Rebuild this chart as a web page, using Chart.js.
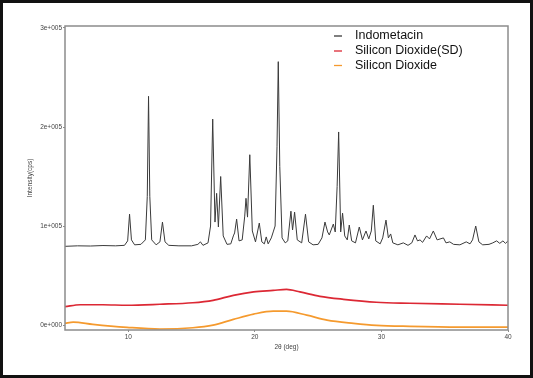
<!DOCTYPE html>
<html>
<head>
<meta charset="utf-8">
<script src="https://cdn.jsdelivr.net/npm/chart.js@4/dist/chart.umd.min.js"></script>
<style>
  html, body { margin: 0; padding: 0; background: #fff; }
  #wrap { position: relative; width: 533px; height: 378px; }
  #wrap canvas { position: absolute; left: 0; top: 0; }
  #frame {
    position: absolute; left: 0; top: 0; width: 533px; height: 378px;
    box-sizing: border-box; border: 3px solid #111; pointer-events: none;
  }
</style>
</head>
<body>
<div id="wrap">
  <canvas id="graficoXRD" width="533" height="378"></canvas>
  <div id="frame"></div>
</div>
<script>
// 2θ (deg) and intensity (cps)
const indoTheta = [
  5.0, 6.0, 7.0, 8.0, 9.0, 9.7, 9.95, 10.1, 10.25, 10.5, 11.0, 11.35, 11.5, 11.6, 11.7,
  11.85, 12.2, 12.5, 12.7, 12.9, 13.2, 14.0, 15.0, 15.5, 15.7, 15.9, 16.3, 16.5, 16.67,
  16.85, 16.98, 17.12, 17.3, 17.5, 17.8, 18.1, 18.3, 18.4, 18.56, 18.75, 19.0, 19.2, 19.3,
  19.42, 19.6, 19.8, 20.05, 20.35, 20.55, 20.75, 20.9, 21.05, 21.3, 21.45, 21.6, 21.75,
  21.85, 21.97, 22.15, 22.4, 22.6, 22.85, 22.98, 23.14, 23.35, 23.7, 24.0, 24.25, 24.6,
  25.0, 25.3, 25.54, 25.75, 25.88, 26.2, 26.35, 26.5, 26.62, 26.78, 26.93, 27.1, 27.3,
  27.46, 27.65, 27.95, 28.25, 28.5, 28.78, 29.0, 29.2, 29.36, 29.55, 29.9, 30.1, 30.36,
  30.55, 30.73, 30.9, 31.3, 31.73, 32.1, 32.4, 32.65, 32.85, 33.05, 33.25, 33.57, 33.8,
  34.1, 34.4, 34.9, 35.1, 35.4, 35.7, 36.2, 36.7, 37.0, 37.2, 37.45, 37.7, 38.0, 38.5,
  38.8, 39.1, 39.35, 39.6, 39.8, 40.0
];
const indoCps = [
  79500, 80000, 79800, 80300, 80000, 80500, 85000, 112000, 86000, 81000, 81500, 86000, 130000, 231000, 130000,
  86000, 81000, 84000, 104000, 84000, 80500, 80000, 80000, 81500, 84000, 80500, 83000, 100000, 208000,
  104000, 133000, 99000, 150000, 90000, 81500, 82000, 90000, 93000, 107000, 85000, 86000, 110000, 128000,
  109000, 172000, 95000, 84000, 103000, 84000, 82000, 89000, 82000, 88000, 94000, 100000, 180000,
  266000, 160000, 88000, 83000, 85000, 115000, 96000, 114000, 86000, 83000, 112000, 84000, 81000,
  81500, 88000, 104000, 94000, 91000, 102000, 94000, 140000, 195000, 94000, 113000, 90000, 86000,
  101000, 85000, 83000, 99000, 86000, 95000, 87000, 95000, 121000, 85000, 82000, 88000, 106000,
  88000, 92000, 83000, 81000, 83000, 80500, 83000, 91000, 85000, 86000, 83500, 90000, 87000,
  95000, 86000, 88000, 83000, 84000, 81500, 81000, 84000, 82000, 86000, 100000, 84000, 81000, 81500,
  83000, 85000, 82500, 85000, 82500, 85000
];

const sdTheta = [5.0, 6.2, 8.0, 9.9, 12.5, 15.1, 16.7, 18.3, 19.9, 21.45, 22.5, 23.56, 25.14, 27.0, 29.6, 32.25, 36.2, 40.0];
const sdCps = [18500, 20500, 20500, 20000, 21000, 22500, 25000, 30000, 33500, 35000, 36000, 33500, 29000, 26000, 23000, 22000, 21000, 20000];

const sio2Theta = [5.0, 5.65, 7.2, 9.9, 12.5, 15.1, 16.7, 18.3, 19.9, 21.45, 22.5, 24.1, 25.7, 27.8, 29.6, 32.25, 36.2, 40.0];
const sio2Cps = [1700, 3000, 700, -2300, -4000, -2700, 0, 5700, 11000, 14000, 14000, 10000, 5000, 1700, -300, -1300, -2000, -2000];

const seriesNomes = ["Indometacin", "Silicon Dioxide(SD)", "Silicon Dioxide"];
const seriesCores = ["#3a3a3a", "#dc2834", "#f59a2e"];
const yTicks = [0, 100000, 200000, 300000];
const xTicks = [10, 20, 30, 40];

function pontos(xs, ys) {
  return xs.map((x, i) => ({ x: x, y: ys[i] }));
}

function formatoExp(v) {
  if (v === 0) return "0e+000";
  const e = Math.floor(Math.log10(Math.abs(v)));
  const m = Math.round(v / Math.pow(10, e));
  return `${m}e+${String(e).padStart(3, "0")}`;
}

// legend drawn inside the plot, top right, plus the gray frame round the plot
const legendaPlugin = {
  id: "legendaInterna",
  afterDraw(chart) {
    const { ctx, chartArea } = chart;
    ctx.save();
    ctx.strokeStyle = "#8c8c8c";
    ctx.lineWidth = 1.5;
    ctx.strokeRect(chartArea.left, chartArea.top, chartArea.right - chartArea.left, chartArea.bottom - chartArea.top);

    const ys = [36, 51, 65.5];
    ctx.font = "12.5px 'Liberation Sans', Arial, sans-serif";
    ctx.textBaseline = "middle";
    seriesNomes.forEach((nome, i) => {
      ctx.strokeStyle = seriesCores[i];
      ctx.lineWidth = 1.3;
      ctx.beginPath();
      ctx.moveTo(334, ys[i]);
      ctx.lineTo(342, ys[i]);
      ctx.stroke();
      ctx.fillStyle = "#111";
      ctx.fillText(nome, 355, ys[i]);
    });
    ctx.restore();
  },
};

const fonteEixo = { family: "'Liberation Sans', Arial, sans-serif", size: 6.5 };

const ctx = document.getElementById("graficoXRD").getContext("2d");
new Chart(ctx, {
  type: "line",
  data: {
    datasets: [
      {
        label: seriesNomes[2],
        data: pontos(sio2Theta, sio2Cps),
        borderColor: seriesCores[2],
        borderWidth: 1.7,
        pointRadius: 0,
        cubicInterpolationMode: "monotone",
      },
      {
        label: seriesNomes[1],
        data: pontos(sdTheta, sdCps),
        borderColor: seriesCores[1],
        borderWidth: 1.7,
        pointRadius: 0,
        cubicInterpolationMode: "monotone",
      },
      {
        label: seriesNomes[0],
        data: pontos(indoTheta, indoCps),
        borderColor: seriesCores[0],
        borderWidth: 1,
        pointRadius: 0,
        tension: 0,
      },
    ],
  },
  options: {
    responsive: false,
    animation: false,
    layout: { padding: { left: 22, top: 26, right: 25, bottom: 22 } },
    plugins: { legend: { display: false }, tooltip: { enabled: false } },
    scales: {
      x: {
        type: "linear",
        min: 5,
        max: 40,
        afterBuildTicks: (axis) => {
          axis.ticks = xTicks.map((v) => ({ value: v }));
        },
        afterFit: (axis) => {
          axis.height = 26;
        },
        grid: { drawOnChartArea: false, drawTicks: true, tickLength: 2, color: "#8c8c8c" },
        border: { display: false },
        ticks: { font: fonteEixo, color: "#444", padding: 1, maxRotation: 0 },
        title: {
          display: true,
          text: "2θ (deg)",
          font: fonteEixo,
          color: "#444",
          padding: { top: 0, bottom: 5 },
        },
      },
      y: {
        min: -5000,
        max: 302000,
        afterBuildTicks: (axis) => {
          axis.ticks = yTicks.map((v) => ({ value: v }));
        },
        afterFit: (axis) => {
          axis.width = 43;
        },
        grid: { drawOnChartArea: false, drawTicks: true, tickLength: 2, color: "#8c8c8c" },
        border: { display: false },
        ticks: { font: fonteEixo, color: "#444", padding: 1, callback: (v) => formatoExp(v) },
        title: {
          display: true,
          text: "Intensity(cps)",
          font: fonteEixo,
          color: "#444",
          padding: { top: 4, bottom: 0 },
        },
      },
    },
  },
  plugins: [legendaPlugin],
});
</script>
</body>
</html>
